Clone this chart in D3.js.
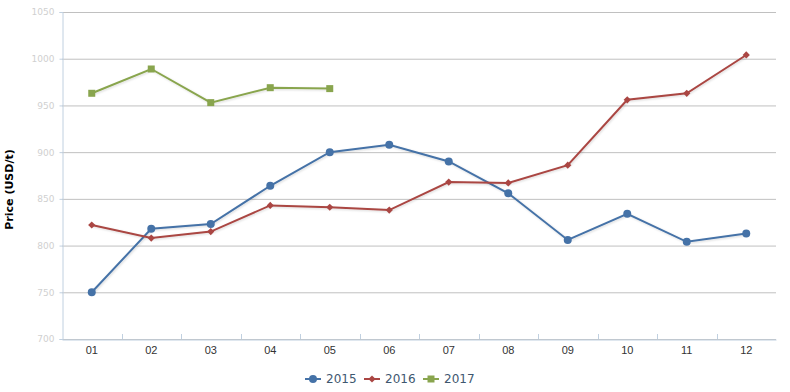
<!DOCTYPE html>
<html><head><meta charset="utf-8">
<script src="https://cdn.jsdelivr.net/npm/d3@7"></script>
<style>body{margin:0;background:#fff;}svg{display:block;font-family:"DejaVu Sans",Verdana,sans-serif;}</style>
</head><body><svg id="c" width="790" height="392"></svg>
<script>
const months = ["01","02","03","04","05","06","07","08","09","10","11","12"];
const s2015 = [750,818,823,864,900,908,890,856,806,834,804,813];
const s2016 = [822,808,815,843,841,838,868,867,886,956,963,1004];
const s2017 = [963,989,953,969,968];
const yTicks = [700,750,800,850,900,950,1000,1050];
const seriesNames = ["2015","2016","2017"];
const colors = ["#4572A7","#AA4643","#89A54E"];
const symbols = [d3.symbolCircle, d3.symbolSquare, d3.symbolSquare];
const symSizes = [50, 26, 49];
const symRot = [0, 45, 0];

const svg = d3.select("#c");
const L=62,R=776,T=12,B=339;
const x = d3.scaleBand().domain(months).range([L,R]);
const y = d3.scaleLinear().domain([700,1050]).range([B,T]);

const defs = svg.append("defs");
const f = defs.append("filter").attr("id","sh").attr("x","-5%").attr("y","-5%").attr("width","110%").attr("height","120%");
f.append("feDropShadow").attr("dx",1).attr("dy",1).attr("stdDeviation",1).attr("flood-color","#000").attr("flood-opacity",0.15);

// grid
svg.append("g").selectAll("line").data(yTicks).join("line")
  .attr("x1",L).attr("x2",R).attr("y1",d=>y(d)+0.5).attr("y2",d=>y(d)+0.5)
  .attr("stroke","#C0C0C0").attr("stroke-width",1);

// y axis
const ya = svg.append("g").attr("transform",`translate(${L+0.5},0)`)
  .call(d3.axisLeft(y).tickValues(yTicks).tickFormat(d3.format("d")).tickSize(3).tickPadding(5));
ya.select(".domain").attr("stroke","#C0D0E0");
ya.selectAll(".tick line").attr("stroke","#C0D0E0");
ya.selectAll(".tick text").attr("fill","#d0d0d0").attr("font-size","9px").attr("font-family","DejaVu Sans");

// x axis
const xa = svg.append("g").attr("transform",`translate(0,${B+0.5})`)
  .call(d3.axisBottom(x).tickSize(0).tickPadding(7));
xa.select(".domain").attr("stroke","#C0D0E0");
xa.selectAll(".tick text").attr("fill","#333").attr("font-size","11px");
svg.append("g").selectAll("line").data(months.slice(1)).join("line")
  .attr("x1",(d)=>Math.round(x(d))+0.5).attr("x2",(d)=>Math.round(x(d))+0.5)
  .attr("y1",B-5).attr("y2",B).attr("stroke","#C0D0E0");

// y title
svg.append("text").attr("transform",`translate(13,${(T+B)/2+14}) rotate(-90)`)
  .attr("text-anchor","middle").attr("font-size","11px").attr("font-weight","bold").attr("fill","#000")
  .text("Price (USD/t)");

const data = [s2015,s2016,s2017];
const line = d3.line().x((d,i)=>x(months[i])+x.bandwidth()/2).y(d=>y(d));
data.forEach((s,k)=>{
  const g = svg.append("g");
  g.append("path").datum(s).attr("d",line).attr("fill","none").attr("stroke",colors[k]).attr("stroke-width",2).attr("filter","url(#sh)");
  g.selectAll("path.m").data(s).join("path").attr("class","m")
    .attr("transform",(d,i)=>`translate(${x(months[i])+x.bandwidth()/2},${y(d)}) rotate(${symRot[k]})`)
    .attr("d",d3.symbol().type(symbols[k]).size(symSizes[k])).attr("fill",colors[k]);
});

// legend
const lg = svg.append("g").attr("transform","translate(305,379)");
const lx = [0,59,118];
seriesNames.forEach((n,k)=>{
  const g = lg.append("g").attr("transform",`translate(${lx[k]},0)`);
  g.append("line").attr("x1",0).attr("x2",16).attr("stroke",colors[k]).attr("stroke-width",2);
  g.append("path").attr("transform",`translate(8,0) rotate(${symRot[k]})`).attr("d",d3.symbol().type(symbols[k]).size(symSizes[k])).attr("fill",colors[k]);
  g.append("text").attr("x",21).attr("y",4).attr("font-size","12px").attr("fill","#3E576F").text(n);
});
</script></body></html>
